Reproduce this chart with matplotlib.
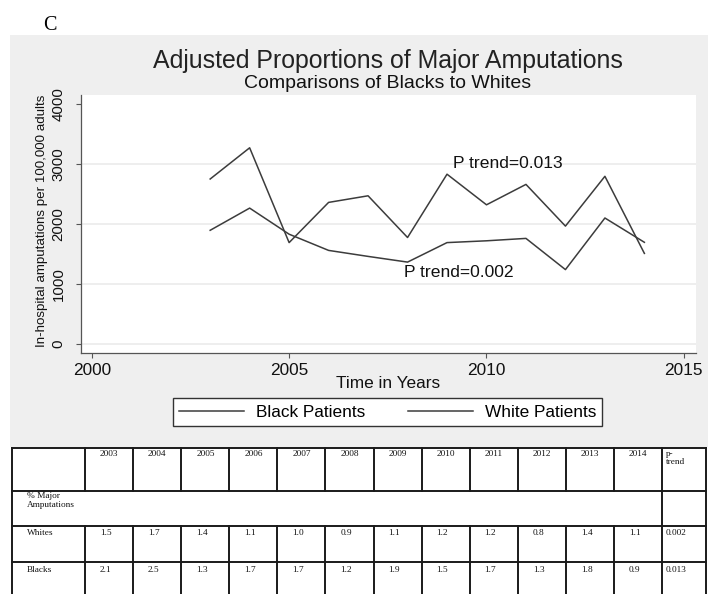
import numpy as np
import matplotlib.pyplot as plt
from matplotlib.patches import Rectangle

plt.rcParams['font.family'] = ['Liberation Sans', 'DejaVu Sans']

# data
years = [2003, 2004, 2005, 2006, 2007, 2008, 2009, 2010, 2011, 2012, 2013, 2014]
black_rate = [2750, 3270, 1690, 2360, 2470, 1775, 2830, 2320, 2660, 1965, 2795, 1510]
white_rate = [1895, 2265, 1830, 1560, 1460, 1365, 1690, 1720, 1760, 1240, 2100, 1695]
series_labels = ['Black Patients', 'White Patients']
x_ticks = [2000, 2005, 2010, 2015]
y_ticks = [0, 1000, 2000, 3000, 4000]
grid_values = [0, 1000, 2000, 3000]
trend_black = 'P trend=0.013'
trend_white = 'P trend=0.002'

# table data
table_years = [str(y) for y in years]
whites_pct = [1.5, 1.7, 1.4, 1.1, 1.0, 0.9, 1.1, 1.2, 1.2, 0.8, 1.4, 1.1]
blacks_pct = [2.1, 2.5, 1.3, 1.7, 1.7, 1.2, 1.9, 1.5, 1.7, 1.3, 1.8, 0.9]
whites_p = '0.002'
blacks_p = '0.013'

W, H = 708, 594


def fx(x):
    return x / W


def fy(y):
    return 1 - y / H


fig = plt.figure(figsize=(7.08, 5.94), dpi=100)
fig.patch.set_facecolor('white')

# grey stata panel
fig.add_artist(Rectangle((fx(10), fy(447)), fx(708) - fx(10), fy(35) - fy(447),
                         transform=fig.transFigure, facecolor='#efefef',
                         edgecolor='none', zorder=0))

fig.text(fx(43), fy(25), 'C', fontsize=14.5, family='Liberation Serif', va='center', ha='left')
fig.text(fx(388), fy(61), 'Adjusted Proportions of Major Amputations', fontsize=17.9,
         color='#222222', ha='center', va='center')
fig.text(fx(388), fy(84), 'Comparisons of Blacks to Whites', fontsize=14,
         color='#111111', ha='center', va='center')

ax = fig.add_axes([fx(80.7), fy(352.7), (695.7 - 80.7) / W, (352.7 - 95) / H])
ax.set_facecolor('white')
for g in grid_values:
    ax.axhline(g, color='#ebebeb', lw=1.2, zorder=0)
line_black, = ax.plot(years, black_rate, color='#3c3c3c', lw=1.1)
line_white, = ax.plot(years, white_rate, color='#3c3c3c', lw=1.1)
ax.set_xlim(1999.72, 2015.3)
ax.set_ylim(-145, 4150)
ax.set_xticks(x_ticks)
ax.set_yticks(y_ticks)
for s in ['top', 'right']:
    ax.spines[s].set_visible(False)
for s in ['left', 'bottom']:
    ax.spines[s].set_color('#555555')
    ax.spines[s].set_linewidth(0.9)
ax.tick_params(axis='x', length=3.4, width=0.8, color='#555555', labelsize=12.4, pad=4,
               labelcolor='#111111')
ax.tick_params(axis='y', length=3.3, width=0.8, color='#555555', labelsize=10.8, pad=7.5,
               labelrotation=90, labelcolor='#111111')
plt.setp(ax.get_yticklabels(), va='center')

ax.text(2009.15, 3000, trend_black, fontsize=12.6, ha='left', va='center', color='#111111')
ax.text(2007.9, 1187, trend_white, fontsize=12.6, ha='left', va='center', color='#111111')

fig.text(fx(388), fy(383), 'Time in Years', fontsize=12.4, ha='center', va='center',
         color='#111111')
fig.text(fx(42), fy(221), 'In-hospital amputations per 100,000 adults', fontsize=9.6,
         rotation=90, ha='center', va='center', color='#111111')

leg = fig.legend([line_black, line_white], series_labels, loc='center',
                 bbox_to_anchor=(fx(173), fy(425), (602 - 173) / W, (425 - 399) / H),
                 mode='expand', ncol=2, frameon=True, fancybox=False, fontsize=12.4,
                 handlelength=3.8, handletextpad=0.65, borderaxespad=0, borderpad=0.35)
leg.get_frame().set_edgecolor('#333333')
leg.get_frame().set_linewidth(1.0)
leg.get_frame().set_facecolor('white')
leg.get_frame().set_alpha(1)

# table below the chart, drawn in pixel coords
tab = fig.add_axes([0, 0, 1, 1])
tab.set_xlim(0, W)
tab.set_ylim(H, 0)
tab.axis('off')

left_edge, right_edge = 11.7, 706
col_edges = np.linspace(85, 662, 13)
row_edges = [448, 491, 526, 562]
lc = '#1a1a1a'
lw = 1.4
for r in row_edges:
    tab.plot([left_edge, right_edge], [r, r], color=lc, lw=lw)
for x in [left_edge, 662, right_edge]:
    tab.plot([x, x], [448, H], color=lc, lw=lw)
for x in col_edges[:-1]:
    tab.plot([x, x], [448, 491], color=lc, lw=lw)
    tab.plot([x, x], [526, H], color=lc, lw=lw)

tfont = dict(family='Liberation Serif', fontsize=6.7, va='top', ha='left', color='#111111')
for i, y in enumerate(table_years):
    tab.text(col_edges[i] + 15, 450.5, y, **tfont)
tab.text(666, 450.5, 'p-\ntrend', linespacing=1.0, **tfont)
tab.text(26.7, 492, '% Major\nAmputations', linespacing=1.15, **tfont)
tab.text(26.7, 529, 'Whites', **tfont)
tab.text(26.7, 566, 'Blacks', **tfont)
for i in range(len(years)):
    tab.text(col_edges[i] + 15, 529, f'{whites_pct[i]:.1f}', **tfont)
    tab.text(col_edges[i] + 15, 566, f'{blacks_pct[i]:.1f}', **tfont)
tab.text(666, 529, whites_p, **tfont)
tab.text(666, 566, blacks_p, **tfont)

fig.savefig('out.png', dpi=100)
